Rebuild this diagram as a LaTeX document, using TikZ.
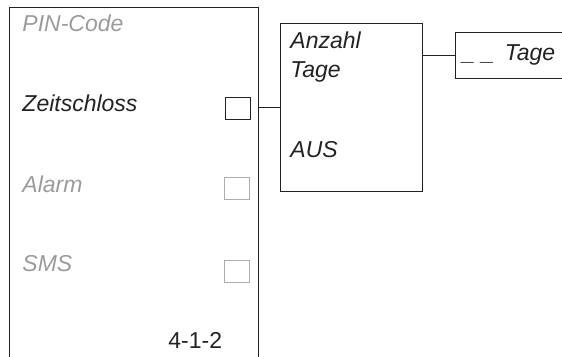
\documentclass[tikz,border=0pt]{standalone}
\usepackage{fontspec}
\setmainfont{Liberation Sans}
\usetikzlibrary{positioning}
\definecolor{ink}{HTML}{222222}
\definecolor{greyed}{HTML}{9B9B9B}
\definecolor{boxgrey}{HTML}{ADADAD}

\begin{document}
\begin{tikzpicture}[x=1pt,y=-1pt,line width=0.9pt,
  lbl/.style={anchor=base west,inner sep=0pt,text=ink,font=\fontsize{23}{29}\selectfont\itshape},
  chk/.style={draw=ink,minimum width=25pt,minimum height=22pt,inner sep=0pt},
  frame/.style={draw=ink,anchor=north west,inner sep=0pt}]
\useasboundingbox (0,0) rectangle (562,356);
\clip (0,0) rectangle (562,356);
% menu panel, open at the bottom
\node[frame,minimum width=249pt,minimum height=380pt] (panel) at (9,7) {};
\node[lbl,text=greyed] (pin) at (22,31) {PIN-Code};
\node[lbl] (zeit) at (22,111) {Zeitschloss};
\node[lbl,text=greyed] (alarm) at (22,192) {Alarm};
\node[lbl,text=greyed] (sms) at (22,271) {SMS};
\node[lbl,font=\fontsize{23}{29}\selectfont] (nr) at (168,348) {4-1-2};
\node[chk] (czeit) at (238,108) {};
\node[chk,draw=boxgrey] (calarm) at (237,188) {};
\node[chk,draw=boxgrey] (csms) at (237,271) {};
% submenu
\node[frame,minimum width=142pt,minimum height=168pt] (menu) at (280,23) {};
\node[lbl,align=left,anchor=north west] (anzahl) at (290,31) {Anzahl\\Tage};
\node[lbl] (aus) at (290,157) {AUS};
\node[frame,minimum width=130pt,minimum height=46pt] (tagebox) at (455,32) {};
\node[lbl] (tage) at (462,60) {\_ \_\hspace{4pt} Tage};
\draw[ink] (menu.west) -- (menu.west -| panel.east);
\draw[ink] (tagebox.west) -- (tagebox.west -| menu.east);
\end{tikzpicture}
\end{document}
